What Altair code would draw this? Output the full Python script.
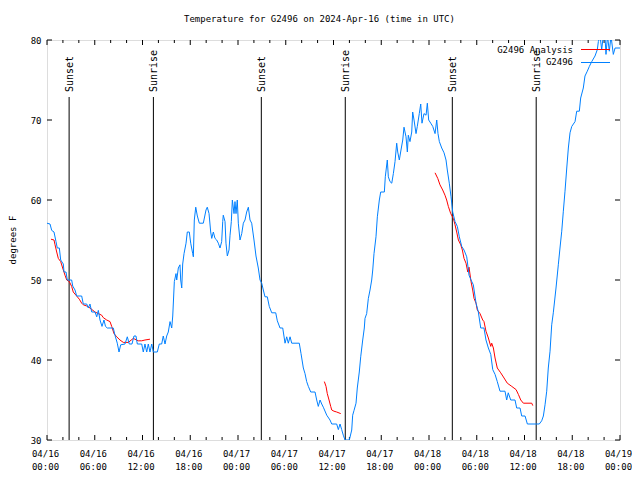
import altair as alt
import pandas as pd

FONT = "DejaVu Sans Mono"

# ---- data (hours since 2024-04-16 00:00 UTC, degrees F) ----
obs_hours = [0.00, 0.38, 0.59, 0.88, 1.13, 1.29, 1.55, 1.72, 2.05, 2.14, 2.39, 2.55, 3.10, 3.23, 3.52, 3.73,
             4.36, 4.56, 4.99, 5.19, 5.40, 5.62, 6.03, 6.25, 6.45, 6.66, 6.91, 7.16, 7.35, 7.58, 8.33, 8.54,
             8.83, 9.05, 9.26, 9.80, 10.09, 10.34, 10.68, 10.93, 11.18, 11.35, 11.90, 12.10, 12.31, 12.53, 12.73,
             12.94, 13.16, 13.36, 13.86, 14.11, 14.41, 14.61, 14.83, 15.04, 15.24, 15.46, 15.67, 15.80, 16.00,
             16.21, 16.30, 16.50, 16.71, 16.80, 16.93, 17.05, 17.22, 17.47, 17.63, 17.88, 18.06, 18.31, 18.39,
             18.51, 18.69, 18.89, 19.14, 19.64, 19.98, 20.14, 20.36, 20.57, 20.70, 20.90, 21.11, 21.32, 21.53,
             21.74, 21.95, 22.08, 22.15, 22.37, 22.49, 22.66, 22.87, 23.00, 23.16, 23.29, 23.50, 23.62, 23.75,
             23.91, 24.04, 24.25, 24.47, 24.67, 24.88, 25.09, 25.30, 25.51, 25.72, 26.01, 26.26, 26.55, 26.77,
             26.98, 27.18, 27.39, 27.68, 27.93, 28.24, 28.74, 28.94, 29.28, 29.62, 29.91, 30.12, 30.32, 30.54,
             30.75, 31.70, 31.92, 32.21, 32.42, 32.63, 32.84, 33.14, 33.68, 33.89, 34.09, 34.31, 34.52, 34.72,
             35.15, 35.56, 35.78, 36.40, 36.61, 36.82, 37.03, 37.23, 37.45, 37.99, 38.29, 38.41, 38.58, 38.83,
             38.99, 39.24, 39.42, 39.67, 39.87, 39.96, 40.17, 40.38, 40.59, 40.80, 40.93, 41.09, 41.34, 41.51,
             41.76, 41.93, 42.39, 42.51, 42.76, 42.89, 43.10, 43.32, 43.52, 43.73, 43.94, 44.07, 44.27, 44.48,
             44.70, 44.86, 45.11, 45.28, 45.40, 45.61, 45.83, 45.95, 46.12, 46.37, 46.53, 46.78, 46.96, 47.12,
             47.37, 47.63, 47.79, 47.96, 48.22, 48.47, 48.76, 48.97, 49.13, 49.30, 49.60, 49.89, 50.14, 50.30,
             50.55, 50.77, 50.98, 51.27, 51.56, 51.81, 52.11, 52.40, 52.74, 53.03, 53.28, 53.57, 53.91, 54.20,
             54.50, 54.91, 55.16, 55.46, 55.76, 56.01, 56.30, 56.58, 56.92, 57.55, 57.76, 57.96, 58.27, 58.81,
             59.02, 59.44, 59.65, 60.07, 60.36, 61.86, 62.16, 62.37, 62.58, 62.79, 62.99, 63.21, 63.42, 63.62,
             63.96, 64.25, 64.46, 64.68, 64.88, 65.09, 65.31, 65.51, 65.72, 65.94, 66.35, 66.56, 66.89, 67.06,
             67.39, 67.60, 67.89, 68.15, 68.45, 68.86, 69.15, 69.28, 69.49, 69.70, 69.90, 70.11, 70.24, 70.43,
             70.66, 70.87, 71.16, 71.38, 72.00]
obs_temps = [57.1, 57.0, 56.2, 56.0, 54.8, 54.0, 54.0, 52.5, 52.0, 51.0, 51.0, 50.0, 50.0, 49.25, 48.75, 48.0,
             48.0, 47.0, 47.0, 46.5, 47.0, 46.0, 46.0, 45.4, 46.2, 45.0, 44.2, 45.0, 44.2, 44.0, 44.0, 43.1,
             42.1, 41.0, 41.9, 42.0, 42.9, 42.0, 42.0, 43.0, 43.0, 42.0, 42.0, 41.0, 42.0, 41.0, 42.0,
             41.0, 42.0, 41.0, 41.0, 42.0, 42.0, 43.0, 42.0, 43.0, 43.5, 44.8, 44.0, 45.5, 49.8,
             50.8, 50.0, 51.5, 51.9, 50.0, 49.0, 52.0, 53.3, 54.6, 56.0, 56.0, 54.6, 53.3, 52.9,
             57.5, 59.1, 58.0, 57.1, 57.1, 58.75, 59.1, 58.3, 56.0, 55.2, 56.0, 55.2, 55.0, 54.6,
             54.0, 54.8, 57.3, 58.1, 57.3, 54.6, 53.0, 53.75, 55.6, 57.3, 60.0, 58.3, 59.8, 58.3,
             60.0, 57.1, 55.0, 55.8, 57.1, 57.5, 58.5, 59.1, 57.5, 57.1, 55.0, 53.0, 51.5, 50.0,
             49.6, 48.75, 47.9, 47.9, 46.7, 45.9, 45.9, 44.9, 44.0, 44.0, 42.1, 42.9, 42.1, 42.9,
             42.1, 42.1, 40.8, 39.0, 38.3, 37.3, 36.7, 36.0, 36.0, 35.0, 34.2, 35.0, 34.5, 34.1,
             33.1, 32.5, 32.0, 32.0, 31.3, 32.0, 31.3, 30.6, 30.0, 30.0, 31.25, 33.1, 33.7, 34.6,
             36.5, 38.5, 40.4, 42.5, 44.0, 45.2, 45.8, 47.7, 48.75, 50.0, 51.25, 53.3, 55.4, 57.9,
             60.0, 61.0, 61.0, 62.9, 65.0, 62.9, 62.3, 62.1, 63.3, 64.8, 67.1, 66.0, 65.0, 66.25,
             67.5, 69.1, 67.9, 66.0, 68.1, 67.3, 68.5, 71.0, 70.0, 68.3, 69.2, 70.8, 72.0, 69.6,
             70.8, 70.6, 72.1, 70.0, 69.6, 69.2, 68.3, 70.0, 68.3, 67.3, 66.5, 65.9, 65.0, 63.75,
             62.1, 60.4, 58.5, 57.3, 56.7, 55.4, 54.2, 53.75, 52.9, 50.6, 50.0, 49.4, 47.1, 46.0,
             44.0, 44.0, 42.5, 41.5, 40.7, 38.8, 38.2, 37.3, 36.1, 36.1, 35.0, 35.9, 35.0, 35.0,
             34.0, 34.0, 33.0, 33.0, 32.0, 32.0, 32.4, 33.0, 34.4, 36.1, 39.0, 41.1, 44.4, 45.9,
             49.0, 51.9, 54.0, 56.1, 58.6, 61.1, 64.0, 66.5, 68.4, 69.2, 69.8, 71.1, 71.1, 72.75,
             74.0, 75.5, 76.1, 76.7, 77.3, 78.0, 78.8, 79.8, 80.5, 78.8, 80.5, 80.5, 78.2, 80.5,
             78.6, 80.5, 78.2, 79.0, 79.0]

ana1_hours = [0.50, 0.88, 1.01, 1.22, 1.42, 1.72, 1.97, 2.26, 2.48, 2.80, 3.10, 3.30, 3.64, 4.06, 4.36, 4.56,
              4.99, 5.40, 6.03, 6.45, 6.87, 7.07, 7.50, 7.92, 8.13, 8.42, 8.76, 9.17, 9.59, 10.22, 10.84,
              11.47, 11.90, 12.31, 12.94]
ana1_temps = [55.1, 55.0, 54.4, 53.5, 52.7, 52.3, 51.5, 50.6, 50.0, 49.8, 49.2, 48.5, 48.1, 47.6, 47.1, 46.9,
              46.75, 46.5, 46.0, 45.8, 45.6, 45.3, 45.0, 44.8, 44.2, 43.3, 42.9, 42.5, 42.2, 42.2, 42.7,
              42.4, 42.4, 42.5, 42.6]
ana2_hours = [34.85, 35.06, 35.22, 35.44, 35.65, 35.78, 36.06, 36.40, 36.91]
ana2_temps = [37.3, 36.7, 35.8, 35.0, 34.2, 33.75, 33.6, 33.5, 33.3]
ana3_hours = [48.76, 49.10, 49.38, 49.72, 50.01, 50.22, 50.43, 50.73, 51.06, 51.27, 51.48, 51.69, 51.99, 52.19,
              52.40, 52.65, 52.87, 53.03, 53.28, 53.49, 53.66, 53.91, 54.07, 54.41, 54.75, 54.91, 55.16,
              55.46, 55.76, 55.88, 56.09, 56.30, 56.58, 57.01, 57.43, 57.84, 58.40, 58.94, 59.23, 59.53,
              59.86, 60.91, 61.04]
ana3_temps = [63.4, 62.7, 61.9, 61.25, 60.6, 60.0, 59.2, 58.3, 57.7, 56.9, 56.0, 55.0, 54.4, 53.75,
              52.7, 52.1, 51.0, 51.6, 49.8, 48.75, 47.7, 47.1, 46.25, 45.8, 45.0, 44.8, 43.6,
              42.75, 41.7, 42.1, 41.5, 40.25, 39.0, 38.4, 37.75, 37.1, 36.7, 36.3, 35.7, 35.0,
              34.6, 34.6, 34.3]

sun_labels = ["Sunset", "Sunrise", "Sunset", "Sunrise", "Sunset", "Sunrise"]
sun_hours = [2.78, 13.37, 26.93, 37.48, 50.93, 61.47]

tick_hours = [0, 6, 12, 18, 24, 30, 36, 42, 48, 54, 60, 66, 72]
tick_dates = ["04/16", "04/16", "04/16", "04/16", "04/17", "04/17", "04/17", "04/17",
              "04/18", "04/18", "04/18", "04/18", "04/19"]
tick_times = ["00:00", "06:00", "12:00", "18:00", "00:00", "06:00", "12:00", "18:00",
              "00:00", "06:00", "12:00", "18:00", "00:00"]
minor_hours = [2, 4, 8, 10, 14, 16, 20, 22, 26, 28, 32, 34, 38, 40, 44, 46, 50, 52, 56, 58, 62, 64, 68, 70]
y_ticks = [30, 40, 50, 60, 70, 80]

title_text = "Temperature for G2496 on 2024-Apr-16 (time in UTC)"
y_title = "degrees F"
series_names = ["G2496 Analysis", "G2496"]
RED = "#ff0000"
BLUE = "#0080ff"

W, H = 573, 400

obs = pd.DataFrame({"h": obs_hours, "t": obs_temps})
ana = pd.concat([
    pd.DataFrame({"h": ana1_hours, "t": ana1_temps, "seg": 1}),
    pd.DataFrame({"h": ana2_hours, "t": ana2_temps, "seg": 2}),
    pd.DataFrame({"h": ana3_hours, "t": ana3_temps, "seg": 3}),
])
sun = pd.DataFrame({"h": sun_hours, "label": sun_labels})
ticks = pd.DataFrame({"h": tick_hours, "d": tick_dates, "tm": tick_times})
minors = pd.DataFrame({"h": minor_hours})
yt = pd.DataFrame({"t": y_ticks})
one = pd.DataFrame({"a": [0]})

xs = alt.Scale(domain=[0, 72], nice=False, zero=False)
ys = alt.Scale(domain=[30, 80], nice=False, zero=False)
X = alt.X("h:Q", scale=xs, axis=None)

base_y = alt.Chart(yt).mark_rule(opacity=0).encode(
    y=alt.Y("t:Q", scale=ys, axis=alt.Axis(values=y_ticks, ticks=False, domain=False, grid=False,
                                          labelFont=FONT, labelFontSize=9, labelColor="black",
                                          labelPadding=6, title=None)),
    x=alt.value(0), x2=alt.value(1),
)

def xtick(df, y1, y2):
    return alt.Chart(df).mark_rule(color="black", strokeWidth=1).encode(
        x=X, y=alt.value(y1), y2=alt.value(y2))

def ytick(x1, x2):
    return alt.Chart(yt).mark_rule(color="black", strokeWidth=1).encode(
        y=alt.Y("t:Q", scale=ys), x=alt.value(x1), x2=alt.value(x2))

tick_layers = [
    xtick(ticks, H, H - 5), xtick(ticks, 0, 5),
    xtick(minors, H, H - 3), xtick(minors, 0, 3),
    ytick(0, 5), ytick(W, W - 5),
]

xlab1 = alt.Chart(ticks).mark_text(font=FONT, fontSize=9, color="black", baseline="middle",
                                   dx=-1.5).encode(x=X, y=alt.value(413.5), text="d:N")
xlab2 = alt.Chart(ticks).mark_text(font=FONT, fontSize=9, color="black", baseline="middle",
                                   dx=-1.5).encode(x=X, y=alt.value(426.5), text="tm:N")

ytitle = alt.Chart(one).mark_text(font=FONT, fontSize=9, color="black", angle=270,
                                  align="center", baseline="middle").encode(
    x=alt.value(-34), y=alt.value(200), text=alt.value(y_title))

sun_rule = alt.Chart(sun).mark_rule(color="black", strokeWidth=1).encode(
    x=X, y=alt.value(57), y2=alt.value(H))
sun_text = alt.Chart(sun).mark_text(font=FONT, fontSize=10, color="black", angle=270,
                                    align="left", baseline="middle", dy=1).encode(
    x=X, y=alt.value(52), text="label:N")

ana_line = alt.Chart(ana).mark_line(color=RED, strokeWidth=1, clip=True).encode(
    x=X, y=alt.Y("t:Q", scale=ys), detail="seg:N")
obs_line = alt.Chart(obs).mark_line(color=BLUE, strokeWidth=1, clip=True).encode(
    x=X, y=alt.Y("t:Q", scale=ys))

leg_df = pd.DataFrame({"name": series_names, "ty": [10, 22]})
leg_text = alt.Chart(leg_df).mark_text(font=FONT, fontSize=9, color="black", align="right",
                                       baseline="middle").encode(
    x=alt.value(526), y=alt.Y("ty:Q", scale=None), text="name:N")
leg_red = alt.Chart(one).mark_rule(color=RED, strokeWidth=1).encode(
    x=alt.value(534), x2=alt.value(563), y=alt.value(9.5))
leg_blue = alt.Chart(one).mark_rule(color=BLUE, strokeWidth=1).encode(
    x=alt.value(534), x2=alt.value(563), y=alt.value(22.5))

title = alt.Chart(one).mark_text(font=FONT, fontSize=9, color="black", align="center",
                                 baseline="middle").encode(
    x=alt.value(272.5), y=alt.value(-21), text=alt.value(title_text))

chart = alt.layer(
    base_y, *tick_layers, xlab1, xlab2, ytitle, sun_rule, sun_text, ana_line, obs_line,
    leg_text, leg_red, leg_blue, title,
).properties(
    width=W, height=H,
    autosize=alt.AutoSizeParams(type="none"),
    padding={"left": 39, "top": 32, "right": 12, "bottom": 30},
).configure_view(stroke="black", strokeWidth=1).configure(background="white")

chart.save("out.html", embed_options={"renderer": "svg", "actions": False})
